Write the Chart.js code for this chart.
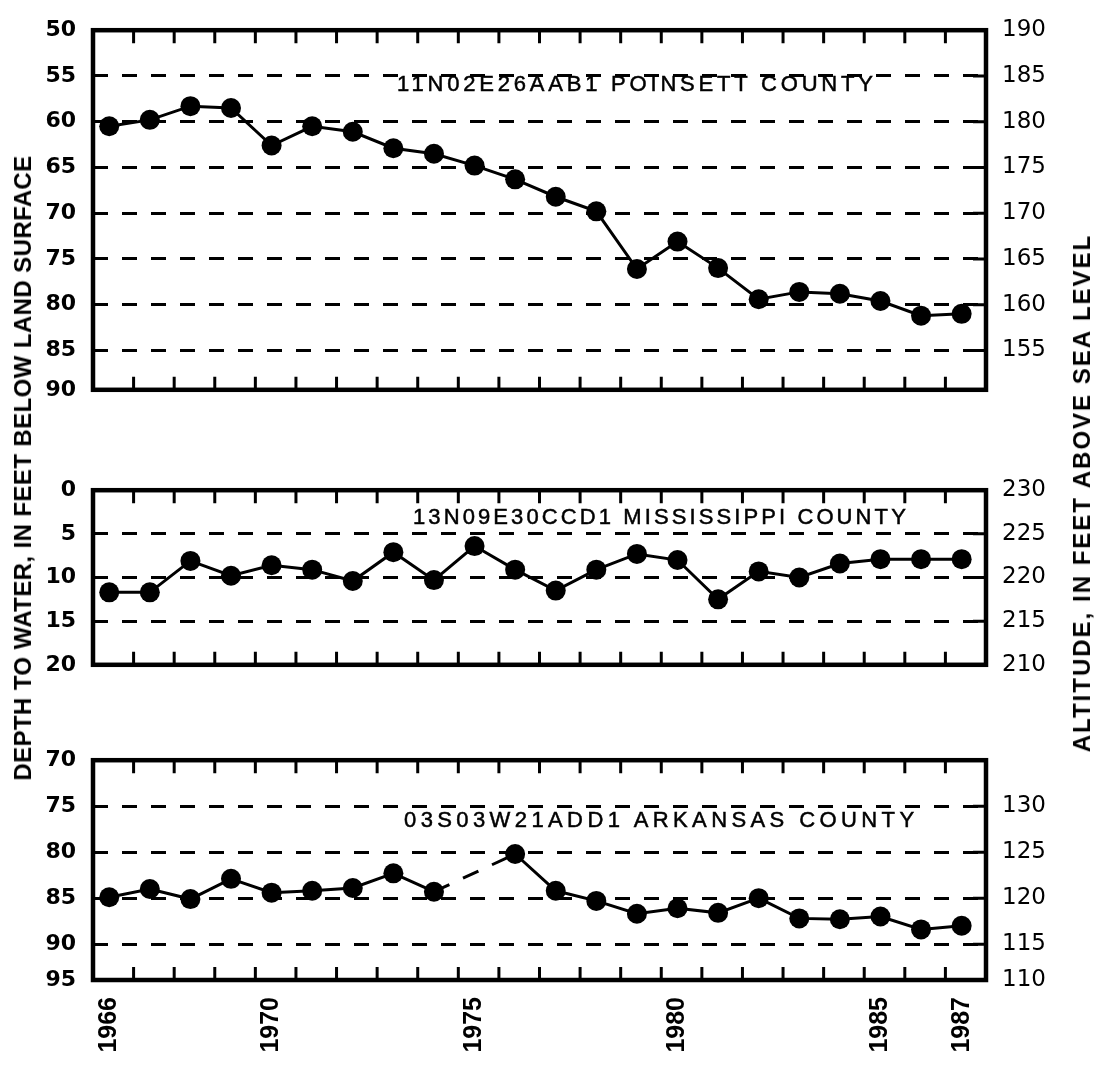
<!DOCTYPE html>
<html>
<head>
<meta charset="utf-8">
<title>Water levels, three wells, 1966-87</title>
<script src="https://cdn.jsdelivr.net/npm/chart.js@4.4.1/dist/chart.umd.min.js"></script>
<style>
  html, body { margin: 0; padding: 0; background: #fff; }
  #page { position: relative; width: 1104px; height: 1065px; overflow: hidden; background: #fff; }
  canvas { position: absolute; left: 0; }
  .well {
    position: absolute;
    font-family: "Liberation Sans", Arial, sans-serif;
    font-size: 22px;
    line-height: 22px;
    white-space: nowrap;
    color: #000;
    -webkit-text-stroke: 0.5px #000;
  }
  .axis-title {
    position: absolute;
    font-family: "Liberation Sans", Arial, sans-serif;
    font-weight: bold;
    font-size: 24px;
    white-space: nowrap;
    color: #000;
    transform: translate(-50%, -50%) rotate(-90deg);
  }
</style>
</head>
<body>
<div id="page">
  <canvas id="poinsettChart" width="1104" height="420" style="top:0px"></canvas>
  <canvas id="mississippiChart" width="1104" height="235" style="top:460px"></canvas>
  <canvas id="arkansasChart" width="1104" height="335" style="top:730px"></canvas>

  <div class="well" style="left:397px; top:73px; letter-spacing:3.8px">11N02E26AAB1 POINSETT COUNTY</div>
  <div class="well" style="left:413px; top:506px; letter-spacing:3.1px">13N09E30CCD1 MISSISSIPPI COUNTY</div>
  <div class="well" style="left:404px; top:809px; letter-spacing:4.4px">03S03W21ADD1 ARKANSAS COUNTY</div>

  <div class="axis-title" style="left:23px; top:468px; letter-spacing:0.4px">DEPTH TO WATER, IN FEET BELOW LAND SURFACE</div>
  <div class="axis-title" style="left:1082px; top:493px; letter-spacing:2px">ALTITUDE, IN FEET ABOVE SEA LEVEL</div>
</div>

<script>
// years of measurement
const years = [1966, 1967, 1968, 1969, 1970, 1971, 1972, 1973, 1974, 1975, 1976,
               1977, 1978, 1979, 1980, 1981, 1982, 1983, 1984, 1985, 1986, 1987];
const labelYears = [1966, 1970, 1975, 1980, 1985, 1987];

// depth to water, feet below land surface
const poinsettDepth = [60.5, 59.8, 58.3, 58.5, 62.6, 60.5, 61.1, 62.9, 63.5, 64.8, 66.3,
                       68.2, 69.8, 76.1, 73.1, 76.0, 79.4, 78.6, 78.8, 79.6, 81.2, 81.0];
const mississippiDepth = [11.7, 11.7, 8.1, 9.8, 8.6, 9.1, 10.4, 7.1, 10.3, 6.4, 9.1,
                          11.5, 9.1, 7.3, 8.0, 12.5, 9.3, 10.0, 8.4, 7.9, 7.9, 7.9];
// no measurement in 1975
const arkansasDepth = [84.9, 84.0, 85.1, 82.9, 84.4, 84.2, 83.9, 82.3, 84.3, null, 80.2,
                       84.2, 85.3, 86.7, 86.1, 86.6, 85.0, 87.2, 87.3, 87.0, 88.4, 88.0];

// left axis ticks (last one sits on the frame bottom)
const poinsettLeftTicks = [50, 55, 60, 65, 70, 75, 80, 85, 89.3];
const poinsettLeftLabels = ['50', '55', '60', '65', '70', '75', '80', '85', '90'];
const mississippiLeftTicks = [0, 5, 10, 15, 20];
const mississippiLeftLabels = ['0', '5', '10', '15', '20'];
const arkansasLeftTicks = [70, 75, 80, 85, 90, 93.9];
const arkansasLeftLabels = ['70', '75', '80', '85', '90', '95'];

// right axis (altitude) ticks
const poinsettRightTicks = [190, 185, 180, 175, 170, 165, 160, 155];
const poinsettRightLabels = ['190', '185', '180', '175', '170', '165', '160', '155'];
const mississippiRightTicks = [230, 225, 220, 215, 210];
const mississippiRightLabels = ['230', '225', '220', '215', '210'];
const arkansasRightTicks = [130, 125, 120, 115, 111.1];
const arkansasRightLabels = ['130', '125', '120', '115', '110'];

// frame, inward year ticks and inward altitude ticks
const frameTicks = {
  id: 'frameTicks',
  afterDraw(chart) {
    const ctx = chart.ctx;
    const area = chart.chartArea;
    const x = chart.scales.x;
    const y2 = chart.scales.y2;
    ctx.save();
    ctx.strokeStyle = '#000';
    ctx.lineCap = 'butt';

    ctx.lineWidth = 3;
    ctx.beginPath();
    for (let i = 0; i < years.length - 1; i++) {
      const px = x.getPixelForValue(years[i] + 0.6);
      ctx.moveTo(px, area.top);
      ctx.lineTo(px, area.top + 13);
      ctx.moveTo(px, area.bottom);
      ctx.lineTo(px, area.bottom - 13);
    }
    y2.ticks.forEach(t => {
      if (t.value <= y2.min || t.value >= y2.max) return;
      const py = y2.getPixelForValue(t.value);
      ctx.moveTo(area.right, py);
      ctx.lineTo(area.right - 13, py);
    });
    ctx.stroke();

    ctx.lineWidth = 4.5;
    ctx.lineJoin = 'miter';
    ctx.strokeRect(area.left, area.top, area.right - area.left, area.bottom - area.top);
    ctx.restore();
  }
};

function makePanel(id, cfg) {
  const depthMin = cfg.leftTicks[0];
  const depthMax = cfg.leftTicks[cfg.leftTicks.length - 1];
  return new Chart(document.getElementById(id), {
    type: 'line',
    data: {
      datasets: [{
        data: years.map((yr, i) => ({ x: yr, y: cfg.depth[i] })),
        yAxisID: 'y',
        borderColor: '#000',
        borderWidth: 3,
        pointRadius: 10,
        pointBackgroundColor: '#000',
        pointBorderColor: '#000',
        pointBorderWidth: 0,
        tension: 0,
        spanGaps: true,
        segment: {
          borderDash: ctx => (ctx.p0.skip || ctx.p1.skip) ? [17, 15] : undefined
        }
      }]
    },
    options: {
      responsive: false,
      animation: false,
      layout: {
        autoPadding: false,
        padding: { top: cfg.padTop, bottom: cfg.padBottom, left: 0, right: 0 }
      },
      plugins: {
        legend: { display: false },
        tooltip: { enabled: false }
      },
      scales: {
        x: {
          type: 'linear',
          min: 1965.6,
          max: 1987.6,
          display: cfg.showYears,
          afterBuildTicks: s => { s.ticks = labelYears.map(v => ({ value: v })); },
          afterFit: s => { if (cfg.showYears) s.height = 85; },
          ticks: {
            autoSkip: false,
            minRotation: 90,
            maxRotation: 90,
            padding: 17,
            color: '#000',
            font: { family: 'Liberation Sans', weight: 'bold', size: 25 },
            callback: v => String(v)
          },
          grid: { display: false, drawTicks: false },
          border: { display: false }
        },
        y: {
          position: 'left',
          reverse: true,
          min: depthMin,
          max: depthMax,
          afterBuildTicks: s => { s.ticks = cfg.leftTicks.map(v => ({ value: v })); },
          afterFit: s => { s.width = 93; },
          ticks: {
            autoSkip: false,
            padding: 17,
            color: '#000',
            font: { family: 'DejaVu Sans', weight: 'bold', size: 22 },
            callback: (v, i) => cfg.leftLabels[i]
          },
          grid: {
            drawTicks: false,
            lineWidth: 3,
            color: ctx => (ctx.tick && ctx.tick.value > depthMin && ctx.tick.value < depthMax) ? '#000' : 'rgba(0,0,0,0)'
          },
          border: { display: false, dash: [15, 14] }
        },
        y2: {
          position: 'right',
          min: cfg.rightMin,
          max: cfg.rightMax,
          afterBuildTicks: s => { s.ticks = cfg.rightTicks.map(v => ({ value: v })); },
          afterFit: s => { s.width = 118; },
          ticks: {
            autoSkip: false,
            padding: 16,
            color: '#000',
            font: { family: 'DejaVu Sans', size: 23 },
            callback: (v, i) => cfg.rightLabels[i]
          },
          grid: { display: false, drawTicks: false },
          border: { display: false }
        }
      }
    },
    plugins: [frameTicks]
  });
}

document.addEventListener('DOMContentLoaded', () => {
  makePanel('poinsettChart', {
    depth: poinsettDepth,
    leftTicks: poinsettLeftTicks, leftLabels: poinsettLeftLabels,
    rightTicks: poinsettRightTicks, rightLabels: poinsettRightLabels,
    rightMin: 150.7, rightMax: 190,
    padTop: 22, padBottom: 23, showYears: false
  });
  makePanel('mississippiChart', {
    depth: mississippiDepth,
    leftTicks: mississippiLeftTicks, leftLabels: mississippiLeftLabels,
    rightTicks: mississippiRightTicks, rightLabels: mississippiRightLabels,
    rightMin: 210, rightMax: 230,
    padTop: 23.3, padBottom: 24.3, showYears: false
  });
  makePanel('arkansasChart', {
    depth: arkansasDepth,
    leftTicks: arkansasLeftTicks, leftLabels: arkansasLeftLabels,
    rightTicks: arkansasRightTicks, rightLabels: arkansasRightLabels,
    rightMin: 111.1, rightMax: 135,
    padTop: 23.3, padBottom: 0, showYears: true
  });
});
</script>
</body>
</html>
